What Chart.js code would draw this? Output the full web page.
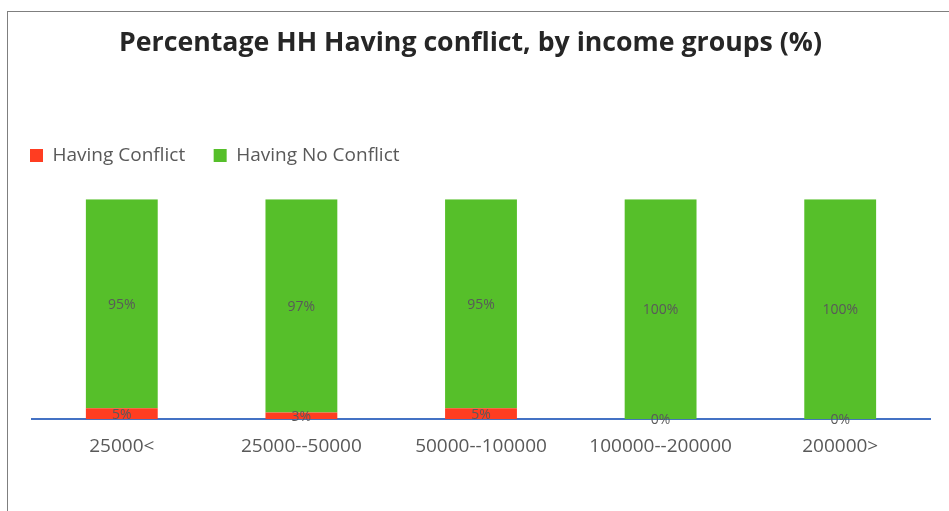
<!DOCTYPE html>
<html>
<head>
<meta charset="utf-8">
<script src="https://cdn.jsdelivr.net/npm/chart.js@4/dist/chart.umd.min.js"></script>
<style>
  html, body { margin: 0; padding: 0; background: #ffffff; }
  #wrap { position: relative; width: 949px; height: 511px; overflow: hidden; }
  #frame { position: absolute; left: 7px; top: 11px; width: 960px; height: 520px;
           border-top: 1.5px solid #7f7f7f; border-left: 1.5px solid #7f7f7f; box-sizing: border-box; }
  canvas { position: absolute; left: 0; top: 0; }
</style>
</head>
<body>
<div id="wrap">
  <div id="frame"></div>
  <canvas id="chart" width="949" height="511"></canvas>
</div>
<script>
const incomeGroups = ['25000<', '25000--50000', '50000--100000', '100000--200000', '200000>'];
const havingConflict = [5, 3, 5, 0, 0];
const havingNoConflict = [95, 97, 95, 100, 100];
const seriesNames = ['Having Conflict', 'Having No Conflict'];

const labelFont = '"Open Sans", sans-serif';

// writes each segment's percentage in the middle of the segment
const segmentLabels = {
  id: 'segmentLabels',
  afterDatasetsDraw(chart) {
    const ctx = chart.ctx;
    ctx.save();
    ctx.font = '14px ' + labelFont;
    ctx.fillStyle = '#595959';
    ctx.textAlign = 'center';
    ctx.textBaseline = 'middle';
    chart.data.datasets.forEach((ds, di) => {
      const meta = chart.getDatasetMeta(di);
      meta.data.forEach((bar, i) => {
        const y = (bar.y + bar.base) / 2;
        ctx.fillText(ds.data[i] + '%', bar.x, y + 1);
      });
    });
    ctx.restore();
  }
};

// pulls the legend out to the left edge of the frame and centres the title on the frame
const boxShift = {
  id: 'boxShift',
  afterLayout(chart) {
    if (chart.legend) chart.legend.left = 1.5;
    if (chart.titleBlock) { chart.titleBlock.left = 11; chart.titleBlock.right = 930; }
  }
};

new Chart(document.getElementById('chart'), {
  type: 'bar',
  data: {
    labels: incomeGroups,
    datasets: [
      { label: seriesNames[0], data: havingConflict, backgroundColor: '#ff3d21' },
      { label: seriesNames[1], data: havingNoConflict, backgroundColor: '#56bf2a' }
    ]
  },
  options: {
    responsive: false,
    animation: false,
    layout: { padding: { left: 32, right: 19, top: 0, bottom: 37 } },
    datasets: { bar: { categoryPercentage: 0.4, barPercentage: 1 } },
    scales: {
      x: {
        stacked: true,
        grid: { display: false, drawTicks: false },
        border: { display: true, color: '#4472c4', width: 2 },
        ticks: { color: '#595959', font: { family: labelFont, size: 19 }, padding: 16 }
      },
      y: {
        stacked: true,
        display: false,
        min: 0,
        max: 100
      }
    },
    plugins: {
      tooltip: { enabled: false },
      title: {
        display: true,
        text: 'Percentage HH Having conflict, by income groups (%)',
        color: '#262626',
        font: { family: '"Open Sans", sans-serif', size: 26.7, weight: 'bold' },
        padding: { top: 27, bottom: 58.5 }
      },
      // blank spacer between the legend and the bars
      subtitle: {
        display: true,
        text: ' ',
        weight: 500,
        font: { size: 1 },
        padding: { top: 0, bottom: 23 }
      },
      legend: {
        display: true,
        position: 'top',
        align: 'start',
        labels: {
          color: '#595959',
          font: { family: labelFont, size: 19 },
          boxWidth: 13,
          boxHeight: 13,
          padding: 28.5
        }
      }
    }
  },
  plugins: [segmentLabels, boxShift]
});
</script>
</body>
</html>
